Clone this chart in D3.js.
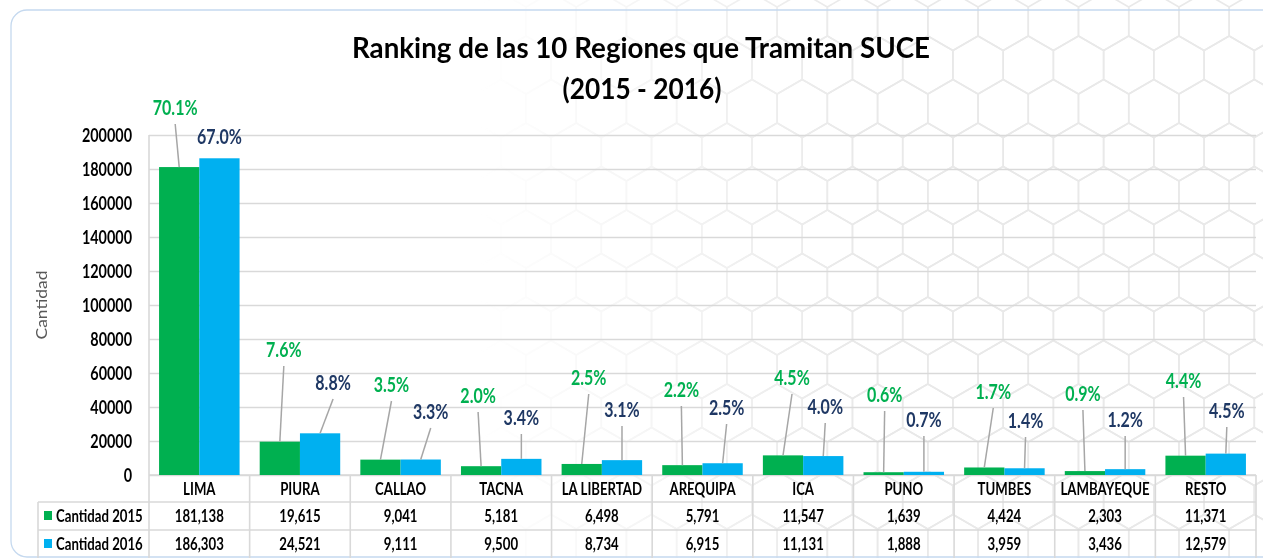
<!DOCTYPE html>
<html>
<head>
<meta charset="utf-8">
<script src="https://cdn.jsdelivr.net/npm/d3@7"></script>
<style>
  html, body { margin: 0; padding: 0; background: #ffffff; }
  svg { display: block; font-family: Lato, "Open Sans", sans-serif; }
</style>
</head>
<body>
<script>
// ---------------- DATA ----------------
const categories = ["LIMA", "PIURA", "CALLAO", "TACNA", "LA LIBERTAD", "AREQUIPA", "ICA", "PUNO", "TUMBES", "LAMBAYEQUE", "RESTO"];
const seriesNames = ["Cantidad 2015", "Cantidad 2016"];
const cantidad2015 = [181138, 19615, 9041, 5181, 6498, 5791, 11547, 1639, 4424, 2303, 11371];
const cantidad2016 = [186303, 24521, 9111, 9500, 8734, 6915, 11131, 1888, 3959, 3436, 12579];
const pct2015 = ["70.1%", "7.6%", "3.5%", "2.0%", "2.5%", "2.2%", "4.5%", "0.6%", "1.7%", "0.9%", "4.4%"];
const pct2016 = ["67.0%", "8.8%", "3.3%", "3.4%", "3.1%", "2.5%", "4.0%", "0.7%", "1.4%", "1.2%", "4.5%"];
const yTicks = [0, 20000, 40000, 60000, 80000, 100000, 120000, 140000, 160000, 180000, 200000];
const titleLines = ["Ranking de las 10 Regiones que Tramitan SUCE", "(2015 - 2016)"];
const yAxisTitle = "Cantidad";

// label placement (manually dragged labels in the original): baseline in axis units, x shift in px
const labelAt2015 = [211765, 69412, 48824, 42353, 52941, 45882, 52941, 42941, 44706, 43529, 51176];
const labelAt2016 = [194706, 50000, 32941, 29412, 34118, 35294, 35882, 28235, 27647, 28235, 33529];
const labelDx2015 = [-4, 4, 11, -3, 7, -1, 9, 1, 9, -2, -2];
const labelDx2016 = [0, 13, 10, 0, 0, 4, 2, 0, 1, 0, 1];

// ---------------- LAYOUT ----------------
const W = 1263, H = 558;
const plot = { left: 149, right: 1256, top: 135, bottom: 475 };
const rowY = [475, 502, 530, 558];
const legendLeft = 38;
const SX = 0.8; // horizontal text compression (condensed look)
const barColors = ["#00b050", "#00b0f0"];
const labelColors = ["#00b050", "#1f3864"];
const gridColor = "#d9d9d9";

const svg = d3.select("body").append("svg").attr("width", W).attr("height", H);
const defs = svg.append("defs");

// hex background fading in toward right
const grad = defs.append("linearGradient").attr("id", "fade")
  .attr("gradientUnits", "userSpaceOnUse").attr("x1", 480).attr("x2", 860).attr("y1", 0).attr("y2", 0);
grad.append("stop").attr("offset", 0).attr("stop-color", "#fff").attr("stop-opacity", 0);
grad.append("stop").attr("offset", 1).attr("stop-color", "#fff").attr("stop-opacity", 1);
defs.append("mask").attr("id", "hexmask").append("rect")
  .attr("width", W).attr("height", H).attr("fill", "url(#fade)");

const hr = 29, hw = hr * Math.sqrt(3), rowStep = hr * 1.5;
const hexPts = d3.range(6).map(k => {
  const a = Math.PI / 180 * (60 * k - 90);
  return [hr * Math.cos(a), hr * Math.sin(a)];
});
const hexPath = "M" + hexPts.map(p => p.join(",")).join("L") + "Z";
const hexG = svg.append("g").attr("mask", "url(#hexmask)");
for (let r = -1; r < 15; r++) {
  const cy = 65 + r * rowStep;
  const off = (r % 2 === 0) ? 0 : -hw / 2;
  for (let c = -14; c < 5; c++) {
    const cx = 1078.5 + c * hw + off;
    hexG.append("path").attr("d", hexPath).attr("transform", `translate(${cx},${cy})`)
      .attr("fill", "none").attr("stroke", "#e9e9e9").attr("stroke-width", 1.6);
  }
}

// card border
svg.append("rect").attr("x", 11).attr("y", 10).attr("width", 1290).attr("height", 547)
  .attr("rx", 16).attr("fill", "none").attr("stroke", "#c5d9ef").attr("stroke-width", 1.3);

// scales
const x = d3.scaleBand().domain(categories).range([plot.left, plot.right]).paddingInner(0).paddingOuter(0);
const bw = x.bandwidth();
const xs = d3.scaleBand().domain([0, 1]).range([bw * 0.1, bw * 0.9]).padding(0);
const y = d3.scaleLinear().domain([0, 200000]).range([plot.bottom, plot.top]);

// gridlines
const grid = svg.append("g").attr("transform", `translate(${plot.left},0)`)
  .call(d3.axisLeft(y).tickValues(yTicks).tickSize(-(plot.right - plot.left)).tickFormat(""));
grid.select(".domain").remove();
grid.selectAll("line").attr("stroke", gridColor).attr("stroke-width", 1.6);

// y axis labels
const yAxis = svg.append("g").attr("transform", `translate(${plot.left},0)`)
  .call(d3.axisLeft(y).tickValues(yTicks).tickSize(0).tickFormat(d3.format("d")));
yAxis.select(".domain").remove();
yAxis.selectAll(".tick text")
  .attr("x", null).attr("dy", null)
  .attr("transform", `translate(-17,6.5) scale(${SX},1)`)
  .attr("font-family", "Lato").attr("font-weight", "bold").attr("font-size", 18)
  .attr("fill", "#000").attr("text-anchor", "end");

// axis title
svg.append("text").attr("transform", "translate(47,305) rotate(-90)")
  .attr("text-anchor", "middle").attr("font-size", 15).attr("fill", "#595959")
  .attr("textLength", 69).attr("lengthAdjust", "spacingAndGlyphs").text(yAxisTitle);

// table lines
const tbl = svg.append("g").attr("stroke", gridColor).attr("stroke-width", 1.6);
tbl.append("line").attr("x1", plot.left).attr("x2", plot.left).attr("y1", plot.top).attr("y2", H);
categories.forEach(c => {
  tbl.append("line").attr("x1", x(c) + bw).attr("x2", x(c) + bw).attr("y1", rowY[0]).attr("y2", H);
});
tbl.append("line").attr("x1", plot.left).attr("x2", plot.right).attr("y1", rowY[0]).attr("y2", rowY[0]);
[rowY[1], rowY[2]].forEach(yy => {
  tbl.append("line").attr("x1", legendLeft).attr("x2", plot.right).attr("y1", yy).attr("y2", yy);
});
tbl.append("line").attr("x1", legendLeft).attr("x2", legendLeft).attr("y1", rowY[1]).attr("y2", H);

// bars
const series = [cantidad2015, cantidad2016];
series.forEach((vals, s) => {
  svg.append("g").selectAll("rect").data(vals).join("rect")
    .attr("x", (d, i) => x(categories[i]) + xs(s))
    .attr("width", xs.bandwidth())
    .attr("y", d => y(d))
    .attr("height", d => y(0) - y(d))
    .attr("fill", barColors[s]);
});

// percent labels with leader lines
const labelSets = [
  { pct: pct2015, at: labelAt2015, dx: labelDx2015 },
  { pct: pct2016, at: labelAt2016, dx: labelDx2016 }
];
labelSets.forEach((L, s) => {
  const g = svg.append("g");
  L.pct.forEach((p, i) => {
    const bx = x(categories[i]) + xs(s) + xs.bandwidth() / 2;
    const by = y(series[s][i]);
    const lx = bx + L.dx[i];
    const ly = y(L.at[i]);
    if (by - (ly + 9) > 8) {
      g.append("line").attr("x1", lx).attr("y1", ly + 9).attr("x2", bx).attr("y2", by)
        .attr("stroke", "#a6a6a6").attr("stroke-width", 1.5);
    }
    g.append("text").attr("transform", `translate(${lx},${ly}) scale(${SX},1)`)
      .attr("text-anchor", "middle").attr("font-weight", "bold").attr("font-size", 20)
      .attr("fill", labelColors[s]).text(p);
  });
});

// table text
const fmt = d3.format(",");
const tt = svg.append("g").attr("font-weight", "bold").attr("font-size", 16.5).attr("fill", "#000");
categories.forEach((c, i) => {
  const cx = x(c) + bw / 2;
  tt.append("text").attr("transform", `translate(${cx},495) scale(${SX},1)`)
    .attr("text-anchor", "middle").text(c);
  tt.append("text").attr("transform", `translate(${cx},522) scale(${SX},1)`)
    .attr("text-anchor", "middle").text(fmt(cantidad2015[i]));
  tt.append("text").attr("transform", `translate(${cx},550) scale(${SX},1)`)
    .attr("text-anchor", "middle").text(fmt(cantidad2016[i]));
});
seriesNames.forEach((n, s) => {
  const base = s === 0 ? 522 : 550;
  svg.append("rect").attr("x", 44).attr("y", base - 11).attr("width", 8).attr("height", 9).attr("fill", barColors[s]);
  tt.append("text").attr("transform", `translate(56,${base}) scale(${SX},1)`).text(n);
});

// title
svg.append("text").attr("x", 641).attr("y", 58).attr("text-anchor", "middle")
  .attr("font-weight", "bold").attr("font-size", 29).attr("fill", "#000")
  .attr("textLength", 578).attr("lengthAdjust", "spacingAndGlyphs").text(titleLines[0]);
svg.append("text").attr("x", 642).attr("y", 99).attr("text-anchor", "middle")
  .attr("font-weight", "bold").attr("font-size", 29).attr("fill", "#000")
  .attr("textLength", 159).attr("lengthAdjust", "spacingAndGlyphs").text(titleLines[1]);
</script>
</body>
</html>
